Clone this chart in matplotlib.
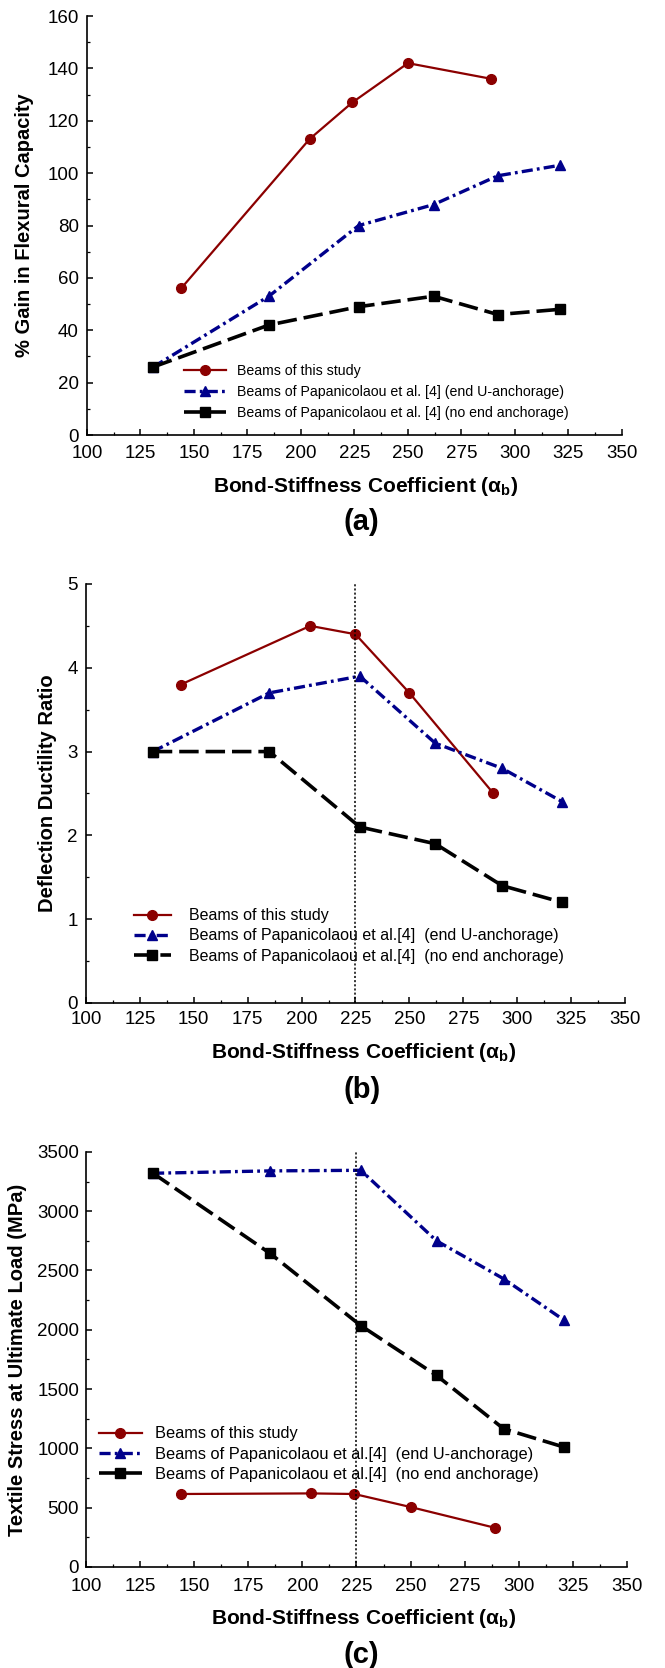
import matplotlib
matplotlib.use('Agg')
from matplotlib import pyplot as plt
from matplotlib.ticker import MultipleLocator

plt.rcParams['font.family'] = ['Liberation Sans', 'DejaVu Sans']
plt.rcParams['mathtext.fontset'] = 'custom'
plt.rcParams['mathtext.rm'] = 'Liberation Sans'
plt.rcParams['mathtext.it'] = 'Liberation Sans:italic'
plt.rcParams['mathtext.bf'] = 'Liberation Sans:bold'
plt.rcParams['lines.scale_dashes'] = False

# (a) % gain in flexural capacity
a_this_x = [144, 204, 224, 250, 289]
a_this_y = [56, 113, 127, 142, 136]
a_u_x = [131, 185, 227, 262, 292, 321]
a_u_y = [26, 53, 80, 88, 99, 103]
a_no_x = [131, 185, 227, 262, 292, 321]
a_no_y = [26, 42, 49, 53, 46, 48]

# (b) deflection ductility ratio
b_this_x = [144, 204, 225, 250, 289]
b_this_y = [3.8, 4.5, 4.4, 3.7, 2.5]
b_u_x = [131, 185, 227, 262, 293, 321]
b_u_y = [3.0, 3.7, 3.9, 3.1, 2.8, 2.4]
b_no_x = [131, 185, 227, 262, 293, 321]
b_no_y = [3.0, 3.0, 2.1, 1.9, 1.4, 1.2]

# (c) textile stress at ultimate load
c_this_x = [144, 204, 224, 250, 289]
c_this_y = [615, 620, 615, 505, 330]
c_u_x = [131, 185, 227, 262, 293, 321]
c_u_y = [3320, 3340, 3345, 2750, 2430, 2080]
c_no_x = [131, 185, 227, 262, 293, 321]
c_no_y = [3320, 2645, 2035, 1615, 1165, 1010]

red = '#8B0000'
blue = '#00008B'

fig = plt.figure(figsize=(6.65, 16.68), dpi=100)
axA = fig.add_axes([0.1308, 0.7392, 0.8045, 0.2512])
axB = fig.add_axes([0.1293, 0.3987, 0.8105, 0.2512])
axC = fig.add_axes([0.1293, 0.0606, 0.8135, 0.2488])

xlab = r'Bond-Stiffness Coefficient ($\mathbf{\alpha}_\mathbf{b}$)'


def draw(ax, xs, ys, labels):
    (tx, ty), (ux, uy), (nx, ny) = zip(xs, ys)
    ax.plot(tx, ty, color=red, lw=1.6, marker='o', ms=7, label=labels[0])
    ax.plot(ux, uy, color=blue, lw=2.4, marker='^', ms=7,
            dashes=(8, 3, 2, 3), label=labels[1])
    ax.plot(nx, ny, color='black', lw=2.6, marker='s', ms=7.5,
            dashes=(14, 5), label=labels[2])


def style(ax, ymax, ymaj, ymin, ylab, ylab_x, ypad, xpad):
    ax.set_xlim(100, 350)
    ax.set_ylim(0, ymax)
    ax.xaxis.set_major_locator(MultipleLocator(25))
    ax.xaxis.set_minor_locator(MultipleLocator(12.5))
    ax.yaxis.set_major_locator(MultipleLocator(ymaj))
    ax.yaxis.set_minor_locator(MultipleLocator(ymin))
    ax.spines['top'].set_visible(False)
    ax.spines['right'].set_visible(False)
    ax.spines['left'].set_linewidth(1.2)
    ax.spines['bottom'].set_linewidth(1.2)
    ax.tick_params(which='major', direction='in', length=4, width=1.1, labelsize=13.5)
    ax.tick_params(which='minor', direction='in', length=2, width=0.9)
    ax.tick_params(axis='y', pad=ypad)
    ax.tick_params(axis='x', pad=xpad)
    ax.set_ylabel(ylab, fontsize=14.5, fontweight='bold', va='center')
    ax.yaxis.set_label_coords(ylab_x, 0.5)
    ax.set_xlabel(xlab, fontsize=15, fontweight='bold', va='center')


draw(axA, [a_this_x, a_u_x, a_no_x], [a_this_y, a_u_y, a_no_y],
     ['Beams of this study',
      'Beams of Papanicolaou et al. [4] (end U-anchorage)',
      'Beams of Papanicolaou et al. [4] (no end anchorage)'])
style(axA, 160, 20, 10, '% Gain in Flexural Capacity', -0.116, 6, 7)
axA.xaxis.set_label_coords(0.52, -0.124)
axA.legend(loc='center left', bbox_to_anchor=(0.181, 0.1026), frameon=False,
           fontsize=10.2, handlelength=3.0, handletextpad=0.78, labelspacing=0.5,
           borderpad=0, borderaxespad=0)

draw(axB, [b_this_x, b_u_x, b_no_x], [b_this_y, b_u_y, b_no_y],
     ['Beams of this study',
      'Beams of Papanicolaou et al.[4]  (end U-anchorage)',
      'Beams of Papanicolaou et al.[4]  (no end anchorage)'])
axB.axvline(225, color='black', lw=1.1, dashes=(1.5, 1.5))
style(axB, 5, 1, 0.5, 'Deflection Ductility Ratio', -0.0705, 6, 5.5)
axB.xaxis.set_label_coords(0.515, -0.119)
axB.legend(loc='center left', bbox_to_anchor=(0.089, 0.16), frameon=False,
           fontsize=11.5, handlelength=2.3, handletextpad=1.13, labelspacing=0.32,
           borderpad=0, borderaxespad=0)

draw(axC, [c_this_x, c_u_x, c_no_x], [c_this_y, c_u_y, c_no_y],
     ['Beams of this study',
      'Beams of Papanicolaou et al.[4]  (end U-anchorage)',
      'Beams of Papanicolaou et al.[4]  (no end anchorage)'])
axC.axvline(225, color='black', lw=1.1, dashes=(1.5, 1.5))
style(axC, 3500, 500, 250, 'Textile Stress at Ultimate Load (MPa)', -0.1275, 5, 8)
axC.xaxis.set_label_coords(0.514, -0.125)
axC.legend(loc='center left', bbox_to_anchor=(0.024, 0.272), frameon=False,
           fontsize=11.8, handlelength=2.6, handletextpad=0.8, labelspacing=0.32,
           borderpad=0, borderaxespad=0)

fig.text(0.544, 0.687, '(a)', fontsize=21, fontweight='bold', ha='center', va='center')
fig.text(0.544, 0.3465, '(b)', fontsize=21, fontweight='bold', ha='center', va='center')
fig.text(0.544, 0.0078, '(c)', fontsize=21, fontweight='bold', ha='center', va='center')

fig.savefig('out.png', dpi=100)
